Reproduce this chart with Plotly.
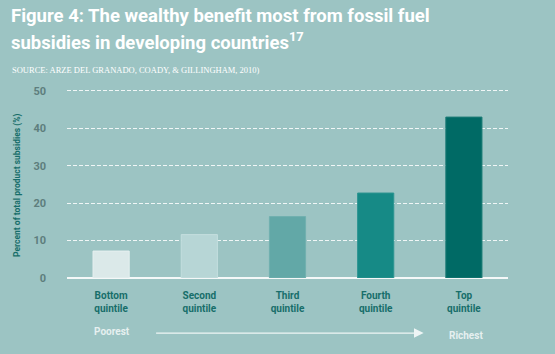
import plotly.graph_objects as go

categories = ["Bottom<br>quintile", "Second<br>quintile", "Third<br>quintile", "Fourth<br>quintile", "Top<br>quintile"]
values = [7.2, 11.6, 16.4, 22.7, 43.0]
bar_colors = ["#dbe9e9", "#b7d6d6", "#62a8a7", "#168a86", "#006a65"]
bar_lines = ["#e6f0f0", "#c4dede", "#70b0af", "#2c9591", "#1f7d78"]
y_ticks = [0, 10, 20, 30, 40, 50]

W, H = 555, 354
Y_TOP = 50.5
L, R, B = 67, 46.5, 76
T = 278 - Y_TOP * 3.74
pw, ph = W - L - R, H - T - B

def px(x):
    return (x - L) / pw

def py(y):
    return (H - B - y) / ph

BG = "#9cc4c3"
TEAL = "#176e6a"
COND = "Roboto, Liberation Sans, sans-serif"

fig = go.Figure(go.Bar(
    x=categories, y=values,
    marker=dict(color=bar_colors, line=dict(color=bar_lines, width=1)),
    width=0.41,
))

fig.update_layout(
    width=W, height=H,
    margin=dict(l=L, r=R, t=T, b=B),
    paper_bgcolor=BG, plot_bgcolor=BG,
    showlegend=False,
    bargap=0.59,
    xaxis=dict(
        showgrid=False, showline=False, zeroline=False, ticks="",
        tickfont=dict(family=COND, size=10, color=TEAL, weight="bold"),
        ticklabelstandoff=10,
        range=[-0.5, 4.5],
    ),
    yaxis=dict(
        range=[0, Y_TOP], tickvals=y_ticks,
        showgrid=True, gridcolor="rgba(255,255,255,0.85)", griddash="4px,2px", gridwidth=1,
        zeroline=True, zerolinecolor="#f4f8f8", zerolinewidth=1.5,
        showline=False, ticks="",
        tickfont=dict(family=COND, size=11, color="#5e7e7d", weight="bold"),
        ticklabelstandoff=20,
    ),
    annotations=[
        dict(xref="paper", yref="paper", x=px(9), y=py(29), xanchor="left", yanchor="bottom",
             text="<b>Figure 4: The wealthy benefit most from fossil fuel</b>", showarrow=False,
             font=dict(family=COND, size=18.5, color="white")),
        dict(xref="paper", yref="paper", x=px(9), y=py(56), xanchor="left", yanchor="bottom",
             text="<b>subsidies in developing countries<sup>17</sup></b>", showarrow=False,
             font=dict(family=COND, size=18.5, color="white")),
        dict(xref="paper", yref="paper", x=px(10), y=py(70), xanchor="left", yanchor="middle",
             text="SOURCE: ARZE DEL GRANADO, COADY, &amp; GILLINGHAM, 2010)", showarrow=False,
             font=dict(family="Liberation Serif, serif", size=8.5, color="white")),
        dict(xref="paper", yref="paper", x=px(18), y=py(185), xanchor="center", yanchor="middle",
             text="<b>Percent of total product subsidies (%)</b>", textangle=-90, showarrow=False,
             font=dict(family=COND, size=8.5, color=TEAL)),
        dict(xref="paper", yref="paper", x=px(112), y=py(331), xanchor="center", yanchor="middle",
             text="<b>Poorest</b>", showarrow=False,
             font=dict(family=COND, size=10, color="#e6f0f0")),
        dict(xref="paper", yref="paper", x=px(466), y=py(335), xanchor="center", yanchor="middle",
             text="<b>Richest</b>", showarrow=False,
             font=dict(family=COND, size=10, color="#e6f0f0")),
        dict(xref="paper", yref="paper", x=px(424), y=py(333), text="", showarrow=True,
             ax=-269, ay=0, arrowhead=2, arrowsize=1.6, arrowwidth=1.2, arrowcolor="#eef5f5"),
    ],
)

fig.write_html("out.html")
